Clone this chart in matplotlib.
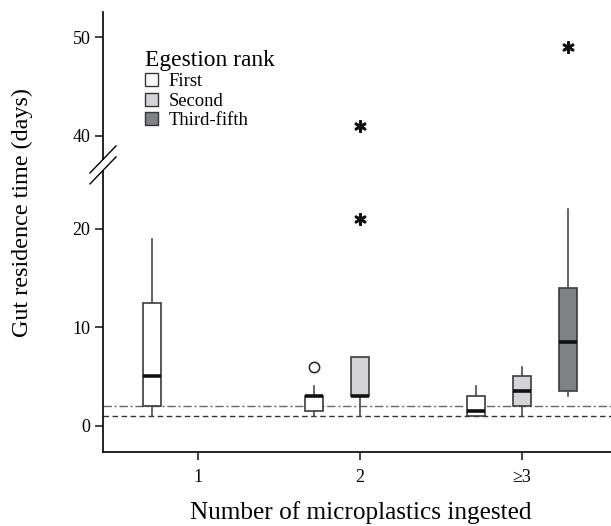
import matplotlib
matplotlib.use("Agg")
import matplotlib.pyplot as plt
import numpy as np
from matplotlib.patches import Patch

plt.rcParams["font.family"] = ["Liberation Serif", "DejaVu Serif"]

# --------------------------------------------------
# Data
# --------------------------------------------------

groups = ["1", "2", "≥3"]
ranks = ["First", "Second", "Third-fifth"]
rank_colors = ["#ffffff", "#d4d4d6", "#808185"]

# one entry per box
box_group = [0, 1, 1, 2, 2, 2]
box_rank = [0, 0, 1, 0, 1, 2]
whislo = [1, 1, 1, 1, 1, 3]
q1 = [2, 1.5, 3, 1, 2, 3.5]
med = [5, 3, 3, 1.5, 3.5, 8.5]
q3 = [12.5, 3, 7, 3, 5, 14]
whishi = [19, 4, 7, 4, 6, 22]

# outliers (circles) and extremes (asterisks)
out_group = [1]
out_rank = [0]
out_value = [6]
ext_group = [1, 1, 2]
ext_rank = [1, 1, 2]
ext_value = [21, 41, 49]

# reference lines
ref_dashed = 1
ref_dashdot = 2

# --------------------------------------------------
# Broken y scale
# --------------------------------------------------

BREAK_LO = 26.5
GAP = 10.55
SQUEEZE = 0.01
BREAK_HI = BREAK_LO + GAP / (1 - SQUEEZE)
T_HI = BREAK_LO + (BREAK_HI - BREAK_LO) * SQUEEZE


def fwd(v):
    v = np.asarray(v, float)
    return np.where(v < BREAK_LO, v,
                    np.where(v < BREAK_HI,
                             BREAK_LO + (v - BREAK_LO) * SQUEEZE,
                             v - GAP))


def inv(t):
    t = np.asarray(t, float)
    return np.where(t < BREAK_LO, t,
                    np.where(t < T_HI,
                             BREAK_LO + (t - BREAK_LO) / SQUEEZE,
                             t + GAP))


# --------------------------------------------------
# Figure
# --------------------------------------------------

fig = plt.figure(figsize=(6.11, 5.26), dpi=100)
ax = fig.add_axes([0.1686, 0.1407, 0.8314, 0.8365])
ax.set_yscale("function", functions=(fwd, inv))

offsets = [-0.285, 0.0, 0.285]
width = 0.11

stats = []
positions = []
for i in range(len(box_group)):
    stats.append({
        "whislo": whislo[i], "q1": q1[i], "med": med[i],
        "q3": q3[i], "whishi": whishi[i], "fliers": [],
    })
    positions.append(box_group[i] + 1 + offsets[box_rank[i]])

art = ax.bxp(
    stats,
    positions=positions,
    widths=width,
    patch_artist=True,
    showfliers=False,
    showcaps=False,
    boxprops=dict(linewidth=1.2, edgecolor="#3c3c3c"),
    whiskerprops=dict(linewidth=1.2, color="#4a4a4a"),
    medianprops=dict(linewidth=2.6, color="#111111", solid_capstyle="butt"),
    manage_ticks=False,
    zorder=3,
)

for patch, r in zip(art["boxes"], box_rank):
    patch.set_facecolor(rank_colors[r])

# outliers
ax.scatter(
    [out_group[i] + 1 + offsets[out_rank[i]] for i in range(len(out_group))],
    out_value,
    s=55,
    facecolor="white",
    edgecolor="#222222",
    linewidth=1.1,
    zorder=4,
)

# extremes
ax.scatter(
    [ext_group[i] + 1 + offsets[ext_rank[i]] for i in range(len(ext_group))],
    ext_value,
    s=55,
    marker=(6, 2, 0),
    color="#111111",
    linewidth=2.0,
    zorder=4,
)

# reference lines
ax.axhline(ref_dashed, color="#333333", linewidth=1.0,
           linestyle=(0, (4, 2.5)), zorder=1)
ax.axhline(ref_dashdot, color="#666666", linewidth=1.0,
           linestyle=(0, (6, 2, 1.5, 2)), zorder=1)

# --------------------------------------------------
# Axes
# --------------------------------------------------

ax.set_xlim(0.414, 3.55)
ax.set_ylim(-2.67, 52.55)

ax.set_xticks([1, 2, 3])
ax.set_xticklabels(groups)
ax.set_yticks([0, 10, 20, 40, 50])
ax.set_yticklabels(["0", "10", "20", "40", "50"])
ax.minorticks_off()

ax.tick_params(axis="both", direction="out", length=6, width=1.2,
               labelsize=13, color="#222222")
ax.tick_params(axis="x", pad=6)
ax.tick_params(axis="y", pad=3)

for side in ["top", "right", "left"]:
    ax.spines[side].set_visible(False)
ax.spines["bottom"].set_linewidth(1.2)

# left spine in two pieces with a break
ytr = ax.get_yaxis_transform()
ax.plot([0, 0], [-2.67, 25.9], color="black", linewidth=1.2,
        transform=ytr, clip_on=False)
ax.plot([0, 0], [37.6, 52.55], color="black", linewidth=1.2,
        transform=ytr, clip_on=False)

for yc in [0.640, 0.665]:
    ax.plot([-0.0256, 0.0256], [yc - 0.0307, yc + 0.0307],
            color="black", linewidth=1.0,
            transform=ax.transAxes, clip_on=False)

ax.set_ylabel("Gut residence time (days)", fontsize=17.4)
ax.yaxis.set_label_coords(-0.137, 0.545)
ax.set_xlabel("Number of microplastics ingested", fontsize=18.2)
ax.xaxis.set_label_coords(0.508, -0.112)

# --------------------------------------------------
# Legend
# --------------------------------------------------

handles = [
    Patch(facecolor=c, edgecolor="#333333", linewidth=1.0, label=r)
    for c, r in zip(rank_colors, ranks)
]

ax.legend(
    handles=handles,
    title="Egestion rank",
    title_fontsize=16.9,
    fontsize=13.4,
    frameon=False,
    loc="upper left",
    bbox_to_anchor=(0.064, 0.935),
    handlelength=0.72,
    handleheight=0.72,
    handletextpad=0.55,
    labelspacing=0.12,
    borderpad=0,
    alignment="left",
)

fig.savefig("out.png", dpi=100)
